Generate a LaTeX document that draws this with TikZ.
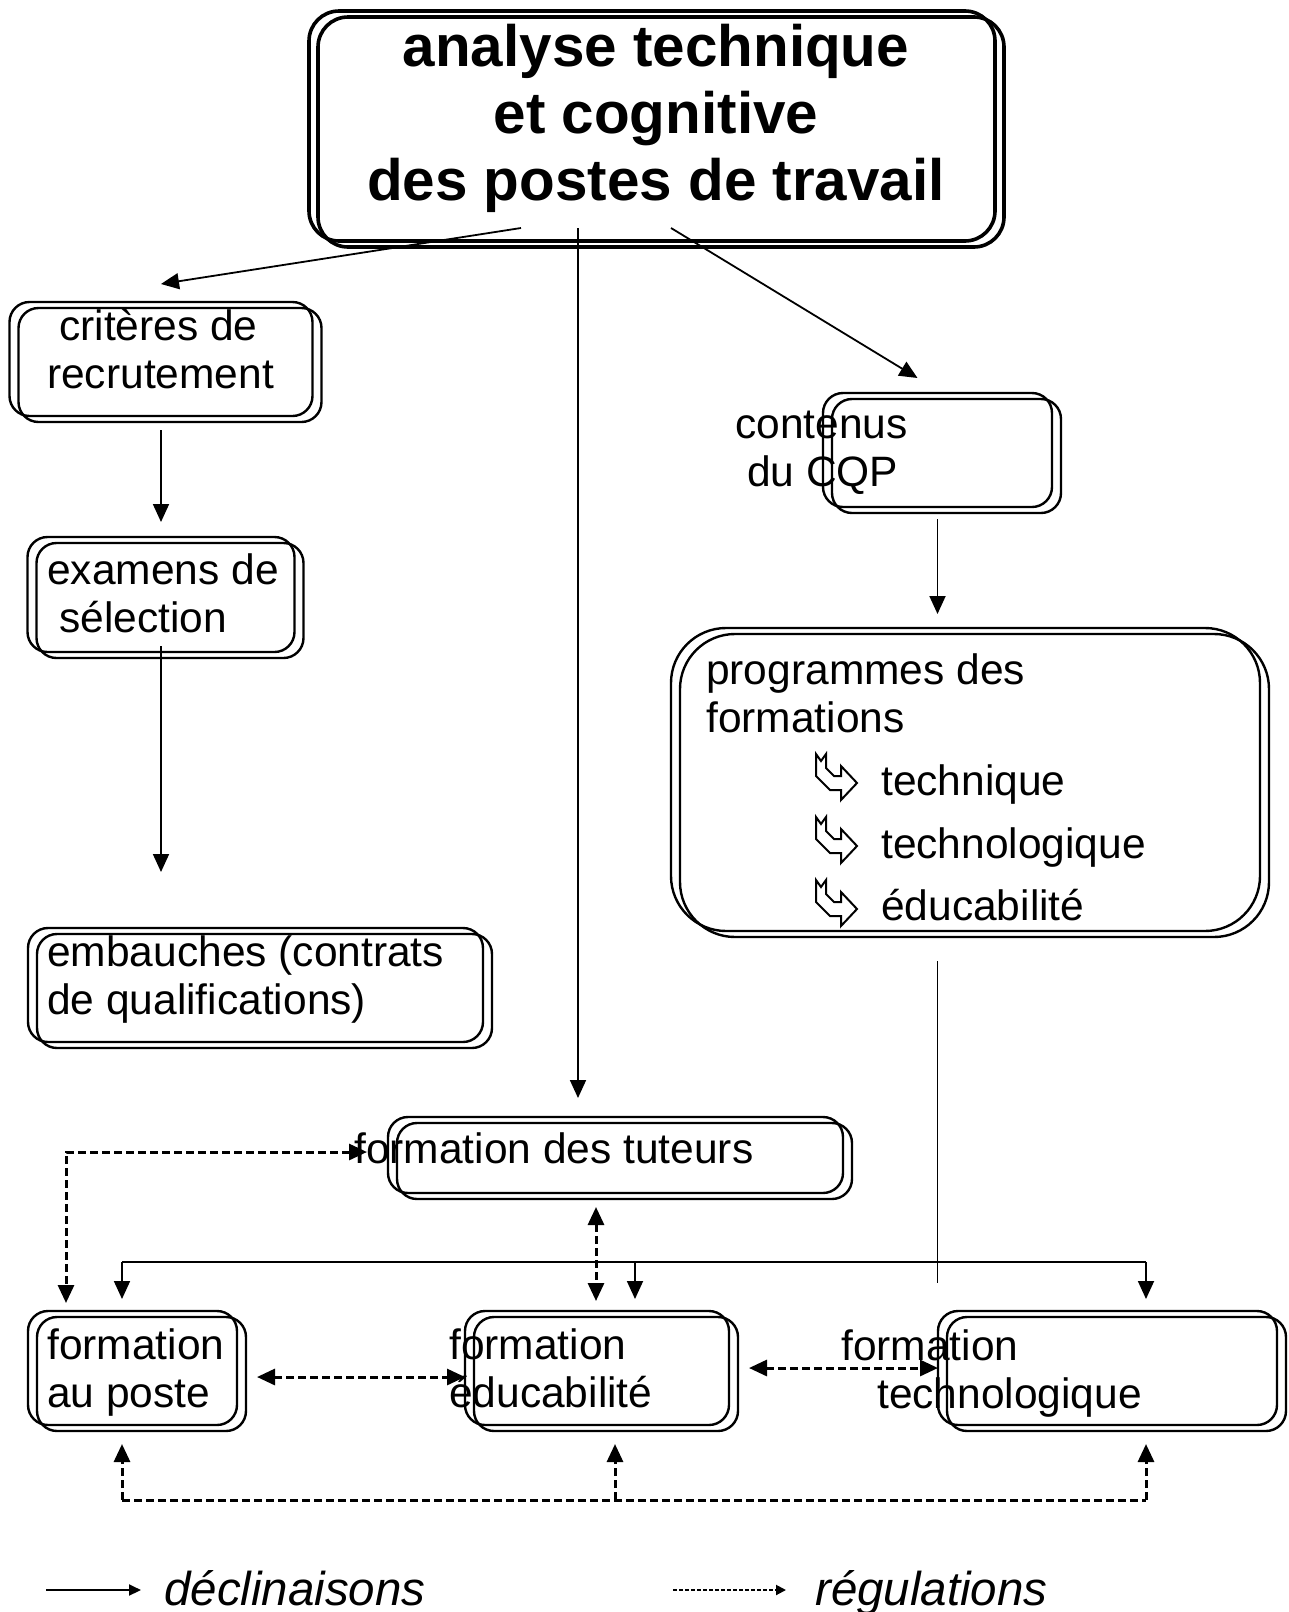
\documentclass[tikz,border=0pt]{standalone}
\usepackage{fontspec}
\setmainfont{Liberation Sans}
\usetikzlibrary{arrows.meta,calc,shadows}

\tikzset{
  box/.style={draw, line width=2.4pt, rounded corners=20pt, inner sep=0pt, outer sep=0pt,
    copy shadow={shadow xshift=9pt, shadow yshift=-6pt, fill=none, draw=black}},
  txt/.style={inner sep=0pt, anchor=base west, align=left, font=\fontsize{42.5}{48}\selectfont},
  decl/.style={line width=1.8pt, -{Triangle[length=18pt,width=16pt]}},
  regdash/.style={line width=3pt, dash pattern=on 8pt off 4pt},
  regul/.style={regdash, {Triangle[length=18pt,width=16pt]}-{Triangle[length=18pt,width=16pt]}},
  regup/.style={regdash, -{Triangle[length=18pt,width=16pt]}},
  hookarrow/.pic={
    \draw[line width=2pt, line join=miter] (0,0) -- (5,-7) -- (10,0) -- (10,-14) -- (18,-22) -- (25,-22)
      -- (25,-12) -- (41,-29) -- (25,-46) -- (25,-36) -- (14,-36) -- (0,-22) -- cycle;
  }
}

\begin{document}
\begin{tikzpicture}[x=1pt, y=1pt]
    \useasboundingbox (0,0) rectangle (1289,-1612);
    \fill[white] (0,0) rectangle (1289,-1612);

    \node[box, line width=3.6pt, rounded corners=30pt, minimum width=686pt, minimum height=230pt] (title) at (652,-126) {};
    \node[inner sep=0pt, anchor=base, align=center, font=\fontsize{58.4}{67}\selectfont\bfseries] (titleT) at (656,-200) {analyse technique\\et cognitive\\des postes de travail};

    \node[box, minimum width=303pt, minimum height=114pt] (crit)   at (161,-359)    {};
    \node[box, minimum width=267pt, minimum height=115pt] (exam)   at (161,-594.5)  {};
    \node[box, minimum width=455pt, minimum height=114pt] (embau)  at (255.5,-985)  {};
    \node[box, minimum width=229pt, minimum height=114pt] (cqp)    at (937.5,-450)  {};
    \node[box, rounded corners=55pt, minimum width=589pt, minimum height=303pt] (prog) at (965.5,-779.5) {};
    \node[box, minimum width=455pt, minimum height=76pt]  (tut)    at (615.5,-1155) {};
    \node[box, minimum width=209pt, minimum height=114pt] (poste)  at (132.5,-1368) {};
    \node[box, minimum width=264pt, minimum height=114pt] (educ)   at (597,-1368)   {};
    \node[box, minimum width=339pt, minimum height=114pt] (techno) at (1107.5,-1368) {};

    \node[txt] (critT)   at (47,-388)   {\hspace*{12pt}critères de\\recrutement};
    \node[txt] (examT)   at (47,-632)   {examens de\\\hspace*{12pt}sélection};
    \node[txt] (embauT)  at (47,-1014)  {embauches (contrats\\de qualifications)};
    \node[txt] (cqpT)    at (735,-486)  {contenus\\\hspace*{12pt}du CQP};
    \node[txt] (progT)   at (706,-732)  {programmes des\\formations};
    \node[txt] (tutT)    at (354,-1163) {formation des tuteurs};
    \node[txt] (posteT)  at (47,-1407)  {formation\\au poste};
    \node[txt] (educT)   at (449,-1407) {formation\\éducabilité};
    \node[txt] (technoT) at (841,-1408) {formation\\\hspace*{36pt}technologique};

    \pic at (816,-754) {hookarrow};
    \node[txt] (bulTech)  at (881,-795) {technique};
    \pic at (816,-817) {hookarrow};
    \node[txt] (bulTechno) at (881,-858) {technologique};
    \pic at (816,-880) {hookarrow};
    \node[txt] (bulEduc)  at (881,-920) {éducabilité};

    \draw[decl] ([xshift=-131pt,yshift=13pt]title.south) -- ([yshift=18pt]crit.north);
    \draw[decl] ([xshift=-74pt,yshift=13pt]title.south) -- ([xshift=-37.5pt,yshift=19pt]tut.north);
    \draw[decl] ([xshift=19pt,yshift=13pt]title.south) -- ([xshift=-20pt,yshift=15pt]cqp.north);
    \draw[decl] ([yshift=-14pt]crit.south) -- ([yshift=15pt]exam.north);
    \draw[decl] ([yshift=6pt]exam.south) -- ($(exam.south |- embau.north)+(0,56)$);
    \draw[decl] ([yshift=-12pt]cqp.south) -- ($(cqp.south |- prog.north)+(0,14)$);
    \draw[line width=1.8pt] ($(cqp.south |- prog.south)+(0,-30)$) -- ($(cqp.south |- techno.north)+(0,28)$);

    \coordinate (busL) at (122,-1262);
    \coordinate (busM) at (635,-1262);
    \coordinate (busR) at (1146,-1262);
    \draw[line width=1.8pt] (busL) -- (busR);
    \draw[decl] (busL) -- ($(busL |- poste.north)+(0,12)$);
    \draw[decl] (busM) -- ($(busM |- educ.north)+(0,12)$);
    \draw[decl] (busR) -- ($(busR |- techno.north)+(0,12)$);

    \draw[regul] ([xshift=-21pt,yshift=3pt]tut.west) -| ($(poste.north west)+(38,8)$);
    \draw[regul] ($(tut.south)+(-19.5,-14)$) -- ($(educ.north)+(-1,10)$);
    \draw[regul] ([xshift=20pt,yshift=-9pt]poste.east) -- ([yshift=-9pt]educ.west);
    \draw[regul] ([xshift=20pt]educ.east) -- (techno.west);

    \coordinate (regL) at (122,-1500);
    \coordinate (regM) at (615,-1500);
    \coordinate (regR) at (1146,-1500);
    \draw[regdash] (regL) -- (regR);
    \draw[regup] (regL) -- ($(regL |- poste.south)+(0,-19)$);
    \draw[regup] (regM) -- ($(regM |- educ.south)+(0,-19)$);
    \draw[regup] (regR) -- ($(regR |- techno.south)+(0,-19)$);

    \coordinate (keyA) at (46,-1590);
    \coordinate (keyB) at (141,-1590);
    \draw[line width=2pt, -{Triangle[length=12pt,width=11pt]}] (keyA) -- (keyB);
    \node[inner sep=0pt, anchor=base west, font=\fontsize{47.5}{54}\selectfont\itshape] (keyDecl) at (164,-1605) {déclinaisons};
    \coordinate (keyC) at (673,-1590);
    \coordinate (keyD) at (786,-1590);
    \draw[line width=2pt, dash pattern=on 4pt off 2pt, -{Triangle[length=10pt,width=10pt]}] (keyC) -- (keyD);
    \node[inner sep=0pt, anchor=base west, font=\fontsize{47.5}{54}\selectfont\itshape] (keyRegul) at (815,-1605) {régulations};
\end{tikzpicture}
\end{document}
